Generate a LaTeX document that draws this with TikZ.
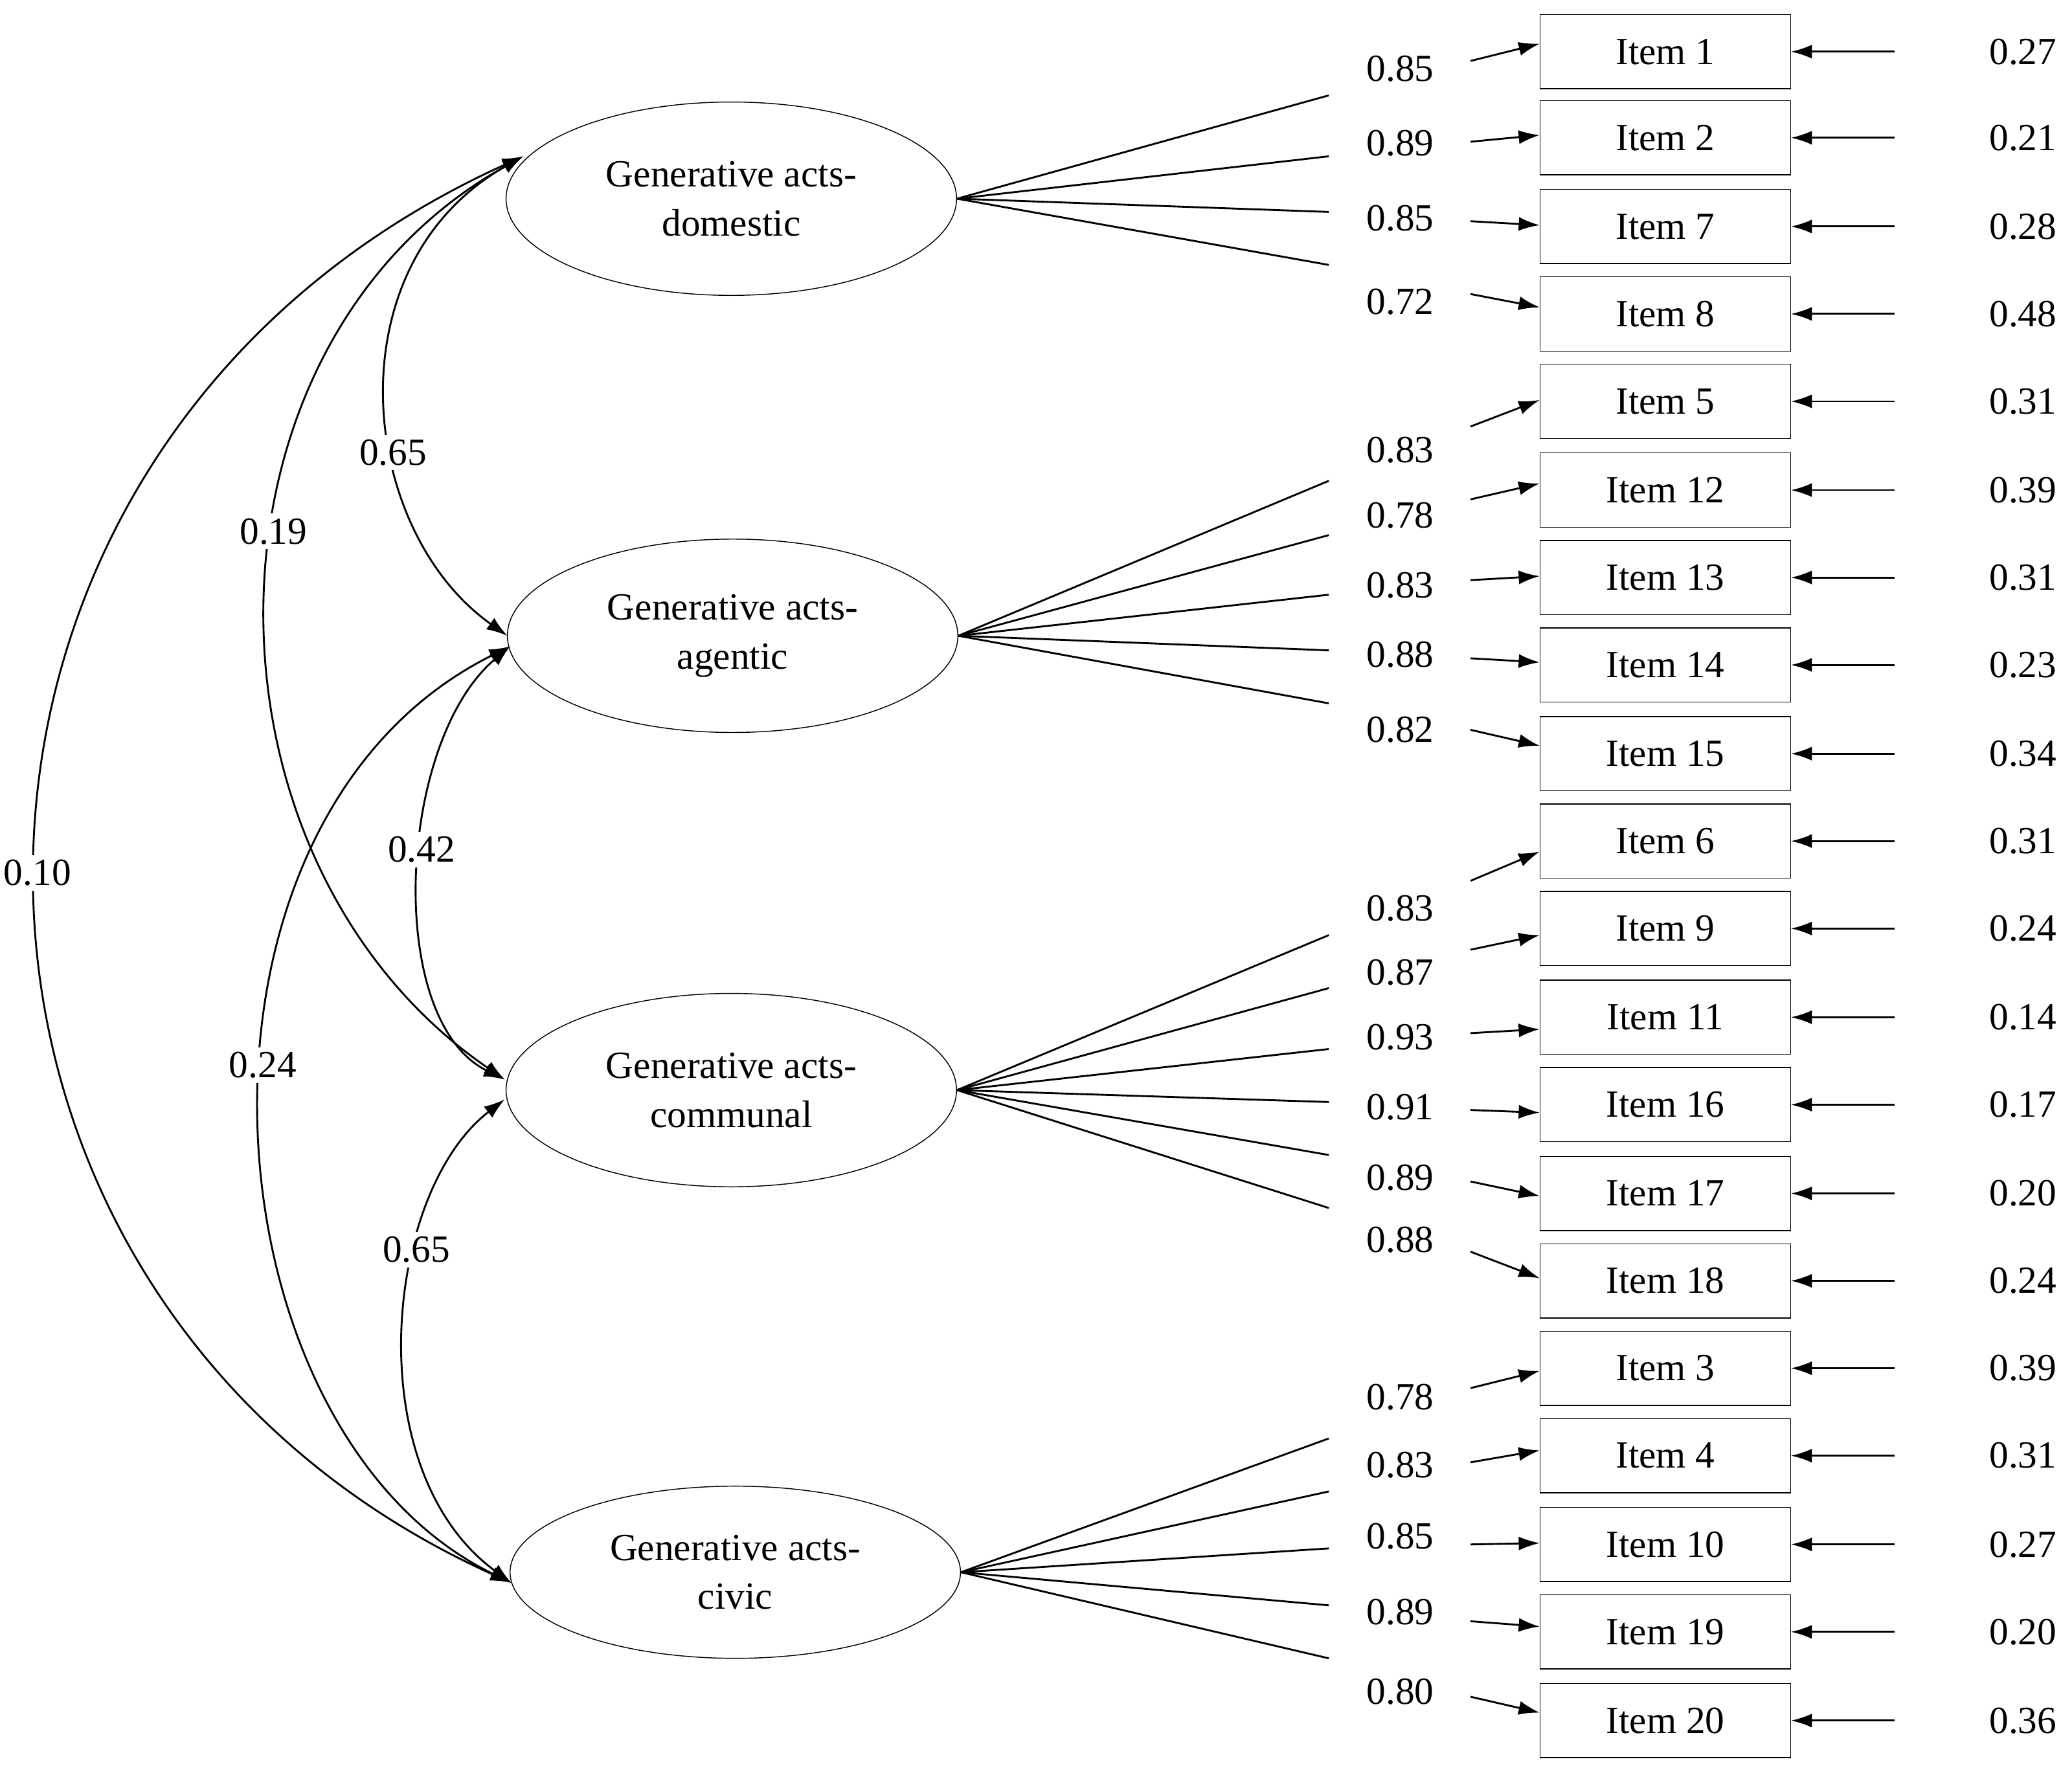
\documentclass[tikz,border=0pt]{standalone}
\usepackage{fontspec}
\setmainfont{Liberation Serif}
\usetikzlibrary{arrows.meta,shapes.geometric}
\begin{document}
\begin{tikzpicture}[x=0.02cm,y=-0.02cm,font=\fontsize{16.5}{21}\selectfont,
 lat/.style={draw,ellipse,minimum width=340*0.02cm,minimum height=146*0.02cm,align=center,inner sep=0pt},
 item/.style={draw,minimum width=189*0.02cm,minimum height=56*0.02cm,inner sep=0pt},
 arr/.style={-{Latex[length=9pt,width=6pt]},line width=0.8pt},
 cor/.style={{Latex[length=9pt,width=6pt]}-{Latex[length=9pt,width=6pt]},line width=0.8pt},
 lab/.style={fill=white,inner sep=2pt},
 ln/.style={line width=0.8pt}]
\useasboundingbox (0,0) rectangle (1564,1333);
\node[lat] (dom) at (552,150) {Generative acts-\\domestic};
\node[lat] (age) at (553,480) {Generative acts-\\agentic};
\node[lat] (com) at (552,823) {Generative acts-\\communal};
\node[lat,minimum height=130*0.02cm] (civ) at (555,1187) {Generative acts-\\civic};
% items
\foreach \n/\y/\ly/\la/\sa/\sb/\e in {
 1/39/52/0.85/46/33/0.27, 2/104/108/0.89/107/102/0.21, 7/171/165/0.85/167/170/0.28, 8/237/228/0.72/222/232/0.48,
 5/303/340/0.83/322/302/0.31, 12/370/389/0.78/377/365/0.39, 13/436/442/0.83/438/435/0.31, 14/502/494/0.88/497/500/0.23, 15/569/551/0.82/551/563/0.34,
 6/635/686/0.83/665/643/0.31, 9/701/734/0.87/717/706/0.24, 11/768/783/0.93/780/777/0.14, 16/834/836/0.91/838/840/0.17, 17/901/889/0.89/892/903/0.20, 18/967/936/0.88/945/965/0.24,
 3/1033/1055/0.78/1048/1035/0.39, 4/1099/1106/0.83/1104/1095/0.31, 10/1166/1160/0.85/1166/1165/0.27, 19/1232/1217/0.89/1224/1228/0.20, 20/1299/1277/0.80/1281/1293/0.36}{
 \node[item] (i\n) at (1257,\y) {Item \n};
 \node (l\n) at (1057,\ly) {\la};
 \coordinate (s\n) at (1110,\sa);
 \draw[arr] (s\n) -- (i\n.west |- 0,\sb);
 \coordinate (r\n) at (1430,\y);
 \draw[arr] (r\n) -- (i\n.east);
 \node (e\n) at (1527,\y) {\e};
}
% loading lines
\foreach \y in {72,118,160,200}{\coordinate (t) at (1003,\y); \draw[ln] (dom.east) -- (t);}
\foreach \y in {363,404,449,491,531}{\coordinate (t) at (1003,\y); \draw[ln] (age.east) -- (t);}
\foreach \y in {706,746,792,832,872,912}{\coordinate (t) at (1003,\y); \draw[ln] (com.east) -- (t);}
\foreach \y in {1086,1126,1169,1212,1252}{\coordinate (t) at (1003,\y); \draw[ln] (civ.east) -- (t);}
% correlations
\coordinate (d) at (395,118); \coordinate (a) at (385,488); \coordinate (c) at (381,815); \coordinate (v) at (386,1195);
\coordinate (a2) at (383,480); \coordinate (c2) at (381,830);
\draw[cor] (d) .. controls (-95,340) and (-90,980) .. node[lab,pos=0.5] {0.10} (v);
\draw[cor] (d) .. controls (140,260) and (140,650) .. node[lab,pos=0.43] {0.19} (c);
\draw[cor] (d) .. controls (250,200) and (270,400) .. node[lab,pos=0.6] {0.65} (a2);
\draw[cor] (a) .. controls (300,560) and (290,770) .. node[lab,pos=0.45] {0.42} (c);
\draw[cor] (a) .. controls (120,620) and (150,1080) .. node[lab,pos=0.45] {0.24} (v);
\draw[cor] (c2) .. controls (290,900) and (270,1110) .. node[lab,pos=0.35] {0.65} (v);
\end{tikzpicture}
\end{document}
